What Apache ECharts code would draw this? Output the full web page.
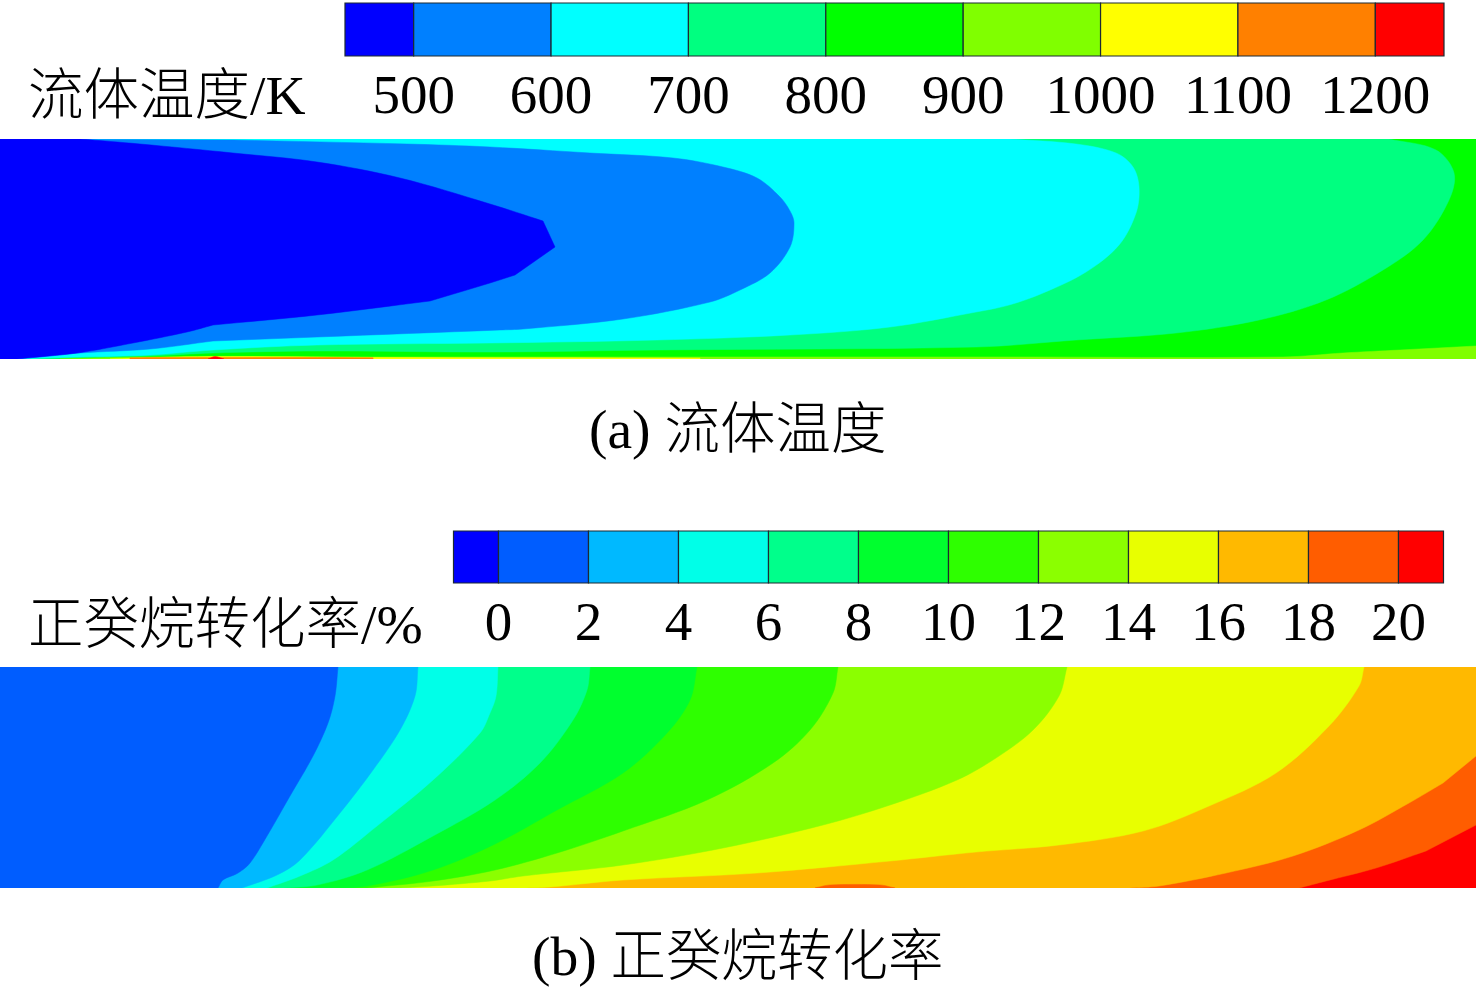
<!DOCTYPE html>
<html>
<head>
<meta charset="utf-8">
<style>html,body{margin:0;padding:0;background:#fff}#c{width:1476px;height:992px}</style>
<script src="https://cdn.jsdelivr.net/npm/echarts@6/dist/echarts.min.js"></script>
</head>
<body>
<div id="c"></div>
<script>
// Colour bars
const tempTicks = [500,600,700,800,900,1000,1100,1200];
const tempEdges = [450,500,600,700,800,900,1000,1100,1200,1250];
const tempColors = ['#0000ff','#0080ff','#00ffff','#00ff80','#00ff00','#80ff00','#ffff00','#ff8000','#ff0000'];
const convTicks = [0,2,4,6,8,10,12,14,16,18,20];
const convEdges = [-1,0,2,4,6,8,10,12,14,16,18,20,21];
const convColors = ['#0000ff','#005dff','#00b9ff','#00ffe8','#00ff8b','#00ff2e','#2eff00','#8bff00','#e8ff00','#ffb900','#ff5d00','#ff0000'];

// Temperature field: contour outlines, [axial position, height above wall]
const temp500 = [[0,0],[0,220],[80,220],[140,215],[233,206],[317,197],[400,181],[490,155],[543,138],[555,112],[515,84],[490,76],[430,58],[317,44],[213,34],[187,27],[133,16],[77,6],[17,0]];
const temp600 = [[0,0],[0,220],[233,219],[407,215],[490,212],[590,206],[673,201],[723,192],[757,181],[780,162],[790,148],[794,136],[790,112],[770,86],[740,69],[710,57],[623,40],[523,30],[500,29],[317,22],[213,18],[150,10],[80,6],[17,0]];
const temp700 = [[0,0],[0,220],[1009,220],[1076,215],[1116,206],[1133,192],[1139,172],[1136,146],[1119,114],[1086,87],[1043,66],[1009,54],[976,47],[890,32],[790,24],[657,19],[490,16],[317,14],[213,9],[150,4],[77,2],[17,0]];
const temp800 = [[0,0],[0,220],[1389,220],[1436,209],[1454,186],[1449,159],[1423,119],[1383,89],[1326,59],[1259,39],[1176,26],[1076,19],[976,12],[657,9],[490,7],[317,8],[213,6],[150,3],[77,1],[30,0]];
const temp900 = [[60,0],[150,2],[400,2],[600,2],[1000,2],[1283,2],[1343,6],[1400,9],[1476,13],[1476,0]];
const temp1000 = [[110,0],[210,2.5],[373,1.5],[700,0.8],[700,0]];
const temp1100 = [[130,0],[130,1.2],[205,1.5],[225,1.5],[373,1.2],[373,0]];
const temp1200 = [[208,0],[215,2.4],[224,0]];
const tempKinks = [[543,138],[555,112],[515,84],[430,58],[213,34],[213,18]];

// Conversion field: contour outlines, [axial position, height above wall]
const conv0 = [[0,0],[0,221],[338,221],[335,192],[328,165],[313,132],[290,92],[267,52],[250,25],[238,15],[223,8],[218,0]];
const conv2 = [[0,0],[0,221],[418,221],[415,192],[400,158],[373,118],[340,75],[300,28],[277,13],[242,0]];
const conv4 = [[0,0],[0,221],[498,221],[496,192],[490,175],[480,155],[433,108],[377,62],[333,28],[300,12],[267,0]];
const conv6 = [[0,0],[0,221],[590,221],[587,198],[573,168],[540,125],[495,88],[433,52],[367,18],[317,3],[283,0]];
const conv8 = [[0,0],[0,221],[697,221],[690,188],[667,155],[623,115],[557,78],[495,44],[433,18],[367,2],[330,0]];
const conv10 = [[0,0],[0,221],[838,221],[833,195],[810,158],[773,125],[707,88],[623,57],[557,35],[495,18],[433,7],[367,0]];
const conv12 = [[0,0],[0,221],[1067,221],[1059,192],[1033,158],[996,130],[957,108],[890,83],[823,63],[723,40],[623,23],[523,12],[490,7],[433,2],[400,0]];
const conv14 = [[0,0],[0,221],[1364,221],[1359,202],[1329,162],[1276,115],[1209,82],[1143,57],[1059,43],[976,36],[890,27],[757,15],[623,8],[550,1],[523,0]];
const conv16 = [[0,0],[0,221],[1476,221],[1476,132],[1443,105],[1409,85],[1359,58],[1293,32],[1226,15],[1159,2],[1129,0]];
const conv18 = [[0,0],[0,221],[1476,221],[1476,63],[1426,37],[1376,20],[1326,7],[1299,0]];
const convStreak = [[682,0],[763,1.2],[937,1.2],[967,0]];
const convStreakPeak = [[815,0],[830,3],[880,3],[895,0]];

const FONT = '"Liberation Serif","Noto Sans CJK SC",serif';
const TXT = '#000';

// Rounds the drawn outline between the read contour points (wall points and listed kinks stay sharp).
function roundOutline(src, coords, sharpList){
  const n = coords.length;
  const isWall = i => src[i][0]<=0 || src[i][0]>=1476;
  const isSharp = i => isWall(i) || (sharpList||[]).some(s=>s[0]===src[i][0]&&s[1]===src[i][1]);
  const dist = (a,b)=>Math.hypot(a[0]-b[0],a[1]-b[1]);
  const out = [];
  for(let i=0;i<n-1;i++){
    const p0=coords[i], p1=coords[i+1];
    out.push(p0);
    if(isWall(i)||isWall(i+1)) continue;
    const d=dist(p0,p1)||1;
    const prev=(i>0&&!isSharp(i)&&!isWall(i-1))?coords[i-1]:null;
    const next=(i+2<n&&!isSharp(i+1)&&!isWall(i+2))?coords[i+2]:null;
    const m0=[0,1].map(k=>prev?(p1[k]-prev[k])/(dist(prev,p0)+d)*d:p1[k]-p0[k]);
    const m1=[0,1].map(k=>next?(next[k]-p0[k])/(d+dist(p1,next))*d:p1[k]-p0[k]);
    for(let t=1/8;t<0.999;t+=1/8){
      const t2=t*t,t3=t2*t;
      const a=2*t3-3*t2+1,b=t3-2*t2+t,c=-2*t3+3*t2,e=t3-t2;
      out.push([0,1].map(k=>a*p0[k]+b*m0[k]+c*p1[k]+e*m1[k]));
    }
  }
  out.push(coords[n-1]);
  return out;
}
function field(name, pts, color, gridIdx, sharp){
  return {
    type:'custom', name, xAxisIndex:gridIdx, yAxisIndex:gridIdx, silent:true, animation:false,
    coordinateSystem:'cartesian2d', encode:{x:0,y:1}, data:pts, clip:true,
    renderItem(params, api){
      if(params.dataIndex!==0) return null;
      return {type:'polygon',shape:{points:roundOutline(pts,pts.map(p=>api.coord(p)),sharp)},style:{fill:color,stroke:color,lineWidth:0.5}};
    }
  };
}
function bar(name, edges, colors, gridIdx){
  const cells = colors.map((c,i)=>[edges[i],edges[i+1],0,1]);
  return {
    type:'custom', name, xAxisIndex:gridIdx, yAxisIndex:gridIdx, silent:true, animation:false,
    coordinateSystem:'cartesian2d', encode:{x:[0,1],y:[2,3]}, data:cells,
    renderItem(params, api){
      const a = api.coord([api.value(0),1]), b = api.coord([api.value(1),0]);
      return {type:'rect',shape:{x:a[0],y:a[1],width:b[0]-a[0],height:b[1]-a[1]},
        style:{fill:colors[params.dataIndex],stroke:'#1c2a33',lineWidth:1.2}};
    }
  };
}
function hiddenX(min,max,gridIndex){return {type:'value',gridIndex,min,max,show:false};}
function hiddenY(min,max,gridIndex){return {type:'value',gridIndex,min,max,show:false};}
function barX(min,max,gridIndex,ticks){
  return {type:'value',gridIndex,min,max,splitLine:{show:false},axisLine:{show:false},axisTick:{show:false},
    axisLabel:{customValues:ticks,formatter:v=>String(v),margin:15,fontFamily:FONT,fontSize:55,color:TXT,hideOverlap:false}};
}
function label(text,left,top){
  return {text,left,top,padding:0,textStyle:{fontFamily:FONT,fontSize:55.5,fontWeight:300,color:TXT}};
}

const chart = echarts.init(document.getElementById('c'),null,{renderer:'canvas'});
chart.setOption({
  animation:false,
  backgroundColor:'#fff',
  title:[
    label('流体温度/K',28,72),
    label('(a) 流体温度',589,406),
    label('正癸烷转化率/%',28,601),
    label('(b) 正癸烷转化率',532,933)
  ],
  grid:[
    {left:345,top:3,width:1099,height:53},
    {left:0,top:139,width:1476,height:220},
    {left:453.5,top:531,width:990,height:52},
    {left:0,top:667,width:1476,height:221}
  ],
  xAxis:[barX(450,1250,0,tempTicks),hiddenX(0,1476,1),barX(-1,21,2,convTicks),hiddenX(0,1476,3)],
  yAxis:[hiddenY(0,1,0),hiddenY(0,220,1),hiddenY(0,1,2),hiddenY(0,221,3)],
  series:[
    bar('tempBar',tempEdges,tempColors,0),
    bar('convBar',convEdges,convColors,2),
    field('temp800-900',[[0,0],[0,220],[1476,220],[1476,0]],tempColors[4],1),
    field('temp700-800',temp800,tempColors[3],1),
    field('temp600-700',temp700,tempColors[2],1),
    field('temp500-600',temp600,tempColors[1],1,tempKinks),
    field('temp<500',temp500,tempColors[0],1,tempKinks),
    field('temp900-1000',temp900,tempColors[5],1),
    field('temp1000-1100',temp1000,tempColors[6],1),
    field('temp1100-1200',temp1100,tempColors[7],1),
    field('temp>1200',temp1200,tempColors[8],1),
    field('conv>20',[[0,0],[0,221],[1476,221],[1476,0]],convColors[11],3),
    field('conv18-20',conv18,convColors[10],3),
    field('conv16-18',conv16,convColors[9],3),
    field('conv14-16',conv14,convColors[8],3),
    field('conv12-14',conv12,convColors[7],3),
    field('conv10-12',conv10,convColors[6],3),
    field('conv8-10',conv8,convColors[5],3),
    field('conv6-8',conv6,convColors[4],3),
    field('conv4-6',conv4,convColors[3],3),
    field('conv2-4',conv2,convColors[2],3),
    field('conv0-2',conv0,convColors[1],3),
    field('convStreak',convStreak,convColors[9],3),
    field('convStreakPeak',convStreakPeak,convColors[10],3)
  ]
});
</script>
</body>
</html>
